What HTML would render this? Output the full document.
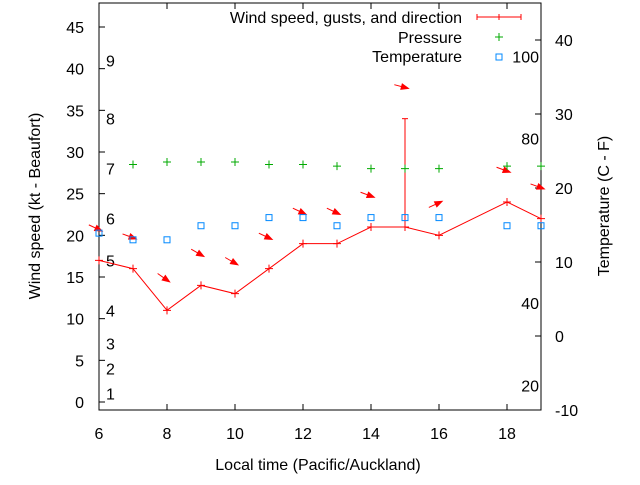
<!DOCTYPE html>
<html><head><meta charset="utf-8"><style>
body{margin:0;background:#fff}
svg text{font-family:"Liberation Sans",sans-serif;font-size:16px;fill:#000}
</style></head><body>
<svg width="640" height="480">
<g id="axes"></g><g id="marks"></g>
</svg>
<script>
const hours=[6,7,8,9,10,11,12,13,14,15,16,17,18,19];
const wind=[17,16,11,14,13,16,19,19,21,21,20,22,24,22];
const gustHours=[15];
const gustVals=[34];
const arrowHours=[6,7,8,9,10,11,12,13,14,15,16,18,19];
const arrowVals=[20.8,19.8,14.8,17.8,16.8,19.8,22.8,22.8,24.8,37.8,23.8,27.8,25.8];
const arrowDir=[25,20,35,30,30,25,25,25,20,15,-25,20,20];
const pressHours=[7,8,9,10,11,12,13,14,15,16,18,19];
const pressVals=[28.5,28.8,28.8,28.8,28.5,28.5,28.3,28.0,28.0,28.0,28.3,28.3];
const tempHours=[6,7,8,9,10,11,12,13,14,15,16,18,19];
const tempVals=[13.9,13,13,14.9,14.9,16,16,14.9,16,16,16,14.9,14.9];
const xTicks=[6,8,10,12,14,16,18];
const yTicks=[0,5,10,15,20,25,30,35,40,45];
const y2Ticks=[-10,0,10,20,30,40];
const bft=[1,2,3,4,5,6,7,8,9];
const bftKt=[1,4,7,11,17,22,28,34,41];
const fTicks=[20,40,80,100];
const L=99,R=541,T=3,B=410;
const X=h=>L+(h-6)*(R-L)/13;
const Y=v=>402-v*375/45;
const Y2=c=>410-(c+10)*7.4;
const ns='http://www.w3.org/2000/svg';
function mk(p,t,a,txt){const e=document.createElementNS(ns,t);for(const k in a)e.setAttribute(k,a[k]);if(txt!==undefined)e.textContent=txt;p.appendChild(e);return e;}
const ax=document.getElementById('axes'),mg=document.getElementById('marks');
let e=mk(ax,'rect',{x:L,y:T,width:R-L,height:B-T,fill:'none',stroke:'#000'});

xTicks.forEach(h=>{mk(ax,'line',{x1:X(h),x2:X(h),y1:B,y2:B-6,stroke:'#000'});mk(ax,'line',{x1:X(h),x2:X(h),y1:T,y2:T+6,stroke:'#000'});
e=mk(ax,'text',{x:X(h),y:439,'text-anchor':'middle'},h);});
yTicks.forEach(v=>{mk(ax,'line',{x1:L,x2:L+6,y1:Y(v),y2:Y(v),stroke:'#000'});
e=mk(ax,'text',{x:84,y:Y(v)+6,'text-anchor':'end'},v);});
y2Ticks.forEach(c=>{mk(ax,'line',{x1:R,x2:R-6,y1:Y2(c),y2:Y2(c),stroke:'#000'});
e=mk(ax,'text',{x:555,y:Y2(c)+6},c);});
bft.forEach((b,i)=>{e=mk(ax,'text',{x:106,y:Y(bftKt[i])+6},b);});
fTicks.forEach(f=>{e=mk(ax,'text',{x:539,y:Y2((f-32)*5/9)+6,'text-anchor':'end'},f);});
e=mk(ax,'text',{x:318,y:470,'text-anchor':'middle'},'Local time (Pacific/Auckland)');
e=mk(ax,'text',{x:40,y:206,'text-anchor':'middle',transform:'rotate(-90 40 206)'},'Wind speed (kt - Beaufort)');
e=mk(ax,'text',{x:609,y:206,'text-anchor':'middle',transform:'rotate(-90 609 206)'},'Temperature (C - F)');
e=mk(mg,'polyline',{points:hours.map((h,i)=>X(h)+','+Y(wind[i])).join(' '),fill:'none',stroke:'#f00'});

hours.forEach((h,i)=>{if(h===17)return;const x=X(h),y=Y(wind[i]);mk(mg,'path',{d:`M${x-4},${y}H${x+4}M${x},${y-4}V${y+4}`,stroke:'#f00'});});
gustHours.forEach((h,i)=>{const idx=hours.indexOf(h);e=mk(mg,'line',{x1:X(h),x2:X(h),y1:Y(wind[idx]),y2:Y(gustVals[i]),stroke:'#f00'});
mk(mg,'line',{x1:X(h)-3,x2:X(h)+3,y1:Y(gustVals[i]),y2:Y(gustVals[i]),stroke:'#f00'});});
arrowHours.forEach((h,i)=>{const a=arrowDir[i]*Math.PI/180,c=Math.cos(a),s=Math.sin(a);const cx=X(h)-2,cy=Y(arrowVals[i]);
const tx=cx-9*c,ty=cy-9*s,hx=cx+5*c,hy=cy+5*s;
const g=mk(mg,'g',{});
mk(g,'line',{x1:tx,y1:ty,x2:hx,y2:hy,stroke:'#f00'});
const bx=hx-7*c,by=hy-7*s;mk(g,'polygon',{points:`${hx+2*c},${hy+2*s} ${bx-3.5*s},${by+3.5*c} ${bx+3.5*s},${by-3.5*c}`,fill:'#f00'});});
pressHours.forEach((h,i)=>{const x=X(h),y=Y(pressVals[i]);e=mk(mg,'path',{d:`M${x-4},${y}H${x+4}M${x},${y-4}V${y+4}`,stroke:'#0a0'});});
tempHours.forEach((h,i)=>{e=mk(mg,'rect',{x:X(h)-3,y:Y2(tempVals[i])-3,width:6,height:6,fill:'none',stroke:'#08f'});});
const lg=mk(mg,'g',{});
mk(lg,'text',{x:462,y:23,'text-anchor':'end'},'Wind speed, gusts, and direction');
mk(lg,'path',{d:'M477,17H521M477,14V20M499,14V20M521,14V20',stroke:'#f00'});
mk(lg,'text',{x:462,y:43,'text-anchor':'end'},'Pressure');
mk(lg,'path',{d:'M495,37H503M499,33V41',stroke:'#0a0'});
mk(lg,'text',{x:462,y:62,'text-anchor':'end'},'Temperature');
mk(lg,'rect',{x:496,y:54,width:6,height:6,fill:'none',stroke:'#08f'});
</script>
</body></html>
